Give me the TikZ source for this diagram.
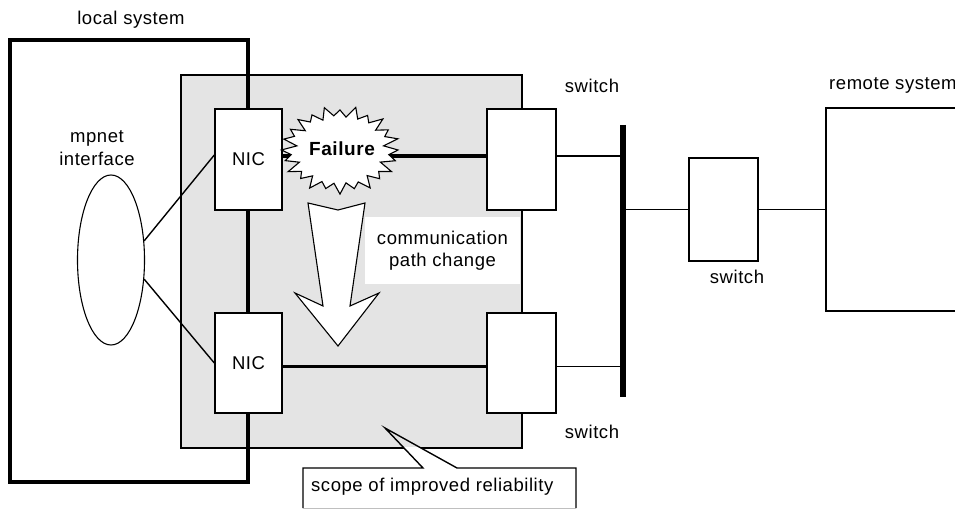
\documentclass[tikz,border=0pt]{standalone}
\usepackage{fontspec}
\setmainfont[LetterSpace=3]{Liberation Sans}
\usetikzlibrary{shapes.geometric}
\definecolor{scopegray}{RGB}{228,228,228}
\begin{document}
\begin{tikzpicture}[x=1pt,y=-1pt,
  thinline/.style={line width=1.4pt},
  thickline/.style={line width=3.4pt},
  lbl/.style={font=\fontsize{18.5}{22}\selectfont, inner sep=0pt, align=center},
  box/.style={draw, line width=1.4pt, fill=white, inner sep=0pt, font=\fontsize{18.5}{22}\selectfont},
]
\useasboundingbox (0,0) rectangle (955,510);

% scope of improved reliability (gray area)
\draw[thinline, fill=scopegray] (181,75) rectangle (522,448);

% white background of the path-change text
\node[fill=white, minimum width=155pt, minimum height=67pt, inner sep=0pt, lbl] (comm) at (442.5,250.5)
  {communication\\path change};

% local system
\draw[thickline] (10,40) rectangle (248,482);
\node[lbl] (localtxt) at (131,20) {local system};

% mpnet interface
\node[draw, ellipse, line width=1.1pt, minimum width=67pt, minimum height=170pt, inner sep=0pt] (ell) at (111,260) {};
\node[lbl] (mpnet) at (97,148) {mpnet\\[1pt]interface};

% NICs
\node[box, minimum width=67pt, minimum height=101pt] (nic1) at (248.5,159.5) {NIC};
\node[box, minimum width=67pt, minimum height=100pt] (nic2) at (248.5,363) {NIC};

% switches
\node[box, minimum width=69pt, minimum height=101pt] (sw1) at (521.5,159.5) {};
\node[box, minimum width=69pt, minimum height=100pt] (sw2) at (521.5,363) {};
\node[box, minimum width=69pt, minimum height=103pt] (sw3) at (723.5,209.5) {};
\node[lbl] (sw1txt) at (592,86) {switch};
\node[lbl] (sw2txt) at (592,432) {switch};
\node[lbl] (sw3txt) at (737,277) {switch};

% remote system
\node[box, minimum width=180pt, minimum height=203pt] (remote) at (916,209.5) {};
\node[lbl, anchor=west] (remotetxt) at (829,85) {remote system};

% bus
\coordinate (busT) at (623,125);
\coordinate (busB) at (623,397);
\draw[line width=6pt] (busT) -- (busB);

% connectors
\draw[thinline] (ell.30) -- ([yshift=4.5pt]nic1.west);
\draw[thinline] (ell.-30) -- (nic2.west);
\draw[thickline] ([yshift=3.5pt]nic1.east) -- ([yshift=3.5pt]sw1.west);
\draw[thickline] ([yshift=-3.5pt]nic2.east) -- ([yshift=-3.5pt]sw2.west);
\draw[thinline] ([yshift=3.5pt]sw1.east) -- ([yshift=3.5pt]sw1.east -| busT);
\draw[thinline] ([yshift=-3.5pt]sw2.east) -- ([yshift=-3.5pt]sw2.east -| busT);
\draw[thinline] (sw3.west -| busT) -- (sw3.west);
\draw[thinline] (sw3.east) -- (remote.west);

% failure burst
\filldraw[line width=1.1pt, fill=white] (398,150)
  \foreach \i [evaluate=\i as \f using {1-0.2*mod(\i,2)+0.05*sin(\i*97)}] in {1,...,47}
  { -- ({340+58*\f*cos(\i*7.5)},{150+42*\f*sin(\i*7.5)}) } -- cycle;
\node[font=\fontsize{19}{22}\selectfont\bfseries, inner sep=0pt] (fail) at (342,149) {Failure};

% path change arrow
\draw[line width=1.1pt, fill=white] (308,203) -- (338,210) -- (365,203) -- (350,306)
  -- (379,293) -- (338,346) -- (295,293) -- (323,306) -- cycle;

% callout
\begin{scope}
  \clip (0,447.8) rectangle (955,510);
  \fill[white] (303,468) -- (423,468) -- (385,428) -- (457,468) -- (576,468) -- (576,508) -- (303,508) -- cycle;
\end{scope}
\draw[thinline] (303,508) -- (303,468) -- (423,468) -- (385,428) -- (457,468) -- (576,468) -- (576,508);
\draw[line width=1pt, black!25] (303,508) -- (576,508);
\node[lbl, anchor=west] (scopetxt) at (311,487) {scope of improved reliability};
\end{tikzpicture}
\end{document}
